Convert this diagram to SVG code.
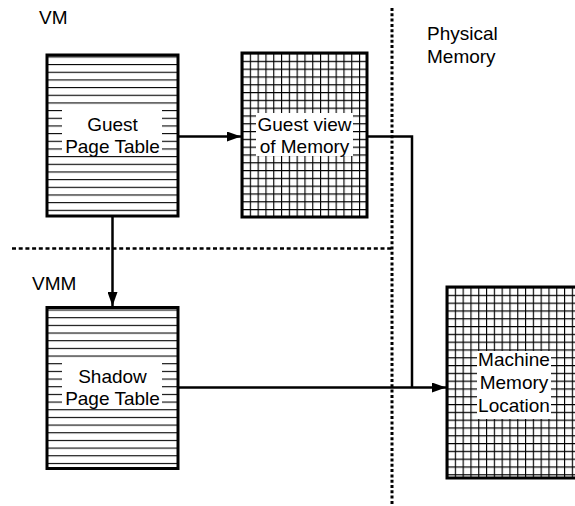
<svg xmlns="http://www.w3.org/2000/svg" width="575" height="506" viewBox="0 0 575 506">
  <style>
    .box { stroke: #000; stroke-width: 3; }
    .lbl { font-family: "Liberation Sans", Arial, sans-serif; font-size: 19px; fill: #000; }
    .mid { text-anchor: middle; }
    .bg { fill: #fff; }
    .conn { fill: none; stroke: #000; stroke-width: 2.5; }
    .sep { fill: none; stroke: #000; stroke-width: 2.5; stroke-dasharray: 4 2.7; }
    .sepv { fill: none; stroke: #000; stroke-width: 3; stroke-dasharray: 3 2.3; }
  </style>
  <defs>
    <!-- horizontal ruling for page tables -->
    <pattern id="rows" patternUnits="userSpaceOnUse" x="0" y="2.7" width="10" height="7.67">
      <rect width="10" height="7.67" fill="#fff"/>
      <line x1="0" y1="0.5" x2="10" y2="0.5" stroke="#000" stroke-width="1.2"/>
    </pattern>
    <!-- square grid for memory blocks -->
    <pattern id="grid" patternUnits="userSpaceOnUse" x="242" y="53" width="7.8" height="7.8">
      <rect width="7.8" height="7.8" fill="#fff"/>
      <path d="M0 0.5H7.8M0.5 0V7.8" stroke="#000" stroke-width="1.3" fill="none"/>
    </pattern>
    <pattern id="grid2" patternUnits="userSpaceOnUse" x="447" y="287" width="7.8" height="7.8">
      <rect width="7.8" height="7.8" fill="#fff"/>
      <path d="M0 0.5H7.8M0.5 0V7.8" stroke="#000" stroke-width="1.3" fill="none"/>
    </pattern>
    <marker id="arr" viewBox="0 0 14 10" refX="14" refY="5" markerWidth="14" markerHeight="10" markerUnits="userSpaceOnUse" orient="auto">
      <path d="M0 0L14 5L0 10Z" fill="#000"/>
    </marker>
  </defs>

  <!-- region separators and region labels -->
  <g id="regions">
    <line class="sepv" x1="392" y1="8" x2="392" y2="506"/>
    <line class="sep" x1="12" y1="248.5" x2="392" y2="248.5"/>
    <text class="lbl" x="39" y="24">VM</text>
    <text class="lbl" x="32" y="290">VMM</text>
    <text class="lbl" x="427" y="40">Physical</text>
    <text class="lbl" x="427" y="63">Memory</text>
  </g>

  <g id="connectors">
    <line class="conn" x1="178" y1="136.5" x2="241" y2="136.5" marker-end="url(#arr)"/>
    <line class="conn" x1="112.5" y1="216" x2="112.5" y2="306" marker-end="url(#arr)"/>
    <polyline class="conn" points="367,136.5 412,136.5 412,387.5"/>
    <line class="conn" x1="178" y1="387.5" x2="446" y2="387.5" marker-end="url(#arr)"/>
  </g>

  <g id="guest-page-table">
    <rect class="box" x="47" y="55" width="131" height="161" fill="url(#rows)"/>
    <rect class="bg" x="62" y="108" width="100" height="48"/>
    <text class="lbl mid" x="112.5" y="131">Guest</text>
    <text class="lbl mid" x="112.5" y="153">Page Table</text>
  </g>

  <g id="guest-view-of-memory">
    <rect class="box" x="242" y="53" width="125" height="164" fill="url(#grid)"/>
    <rect class="bg" x="256" y="113" width="97" height="43"/>
    <text class="lbl mid" x="304.5" y="131">Guest view</text>
    <text class="lbl mid" x="304.5" y="153">of Memory</text>
  </g>

  <g id="shadow-page-table">
    <rect class="box" x="47" y="307.5" width="131" height="161" fill="url(#rows)"/>
    <rect class="bg" x="62" y="360" width="100" height="48"/>
    <text class="lbl mid" x="112.5" y="383">Shadow</text>
    <text class="lbl mid" x="112.5" y="405">Page Table</text>
  </g>

  <g id="machine-memory-location">
    <rect class="box" x="447" y="287" width="134" height="191" fill="url(#grid2)"/>
    <rect class="bg" x="477" y="351" width="74" height="68"/>
    <text class="lbl mid" x="514" y="366">Machine</text>
    <text class="lbl mid" x="514" y="389">Memory</text>
    <text class="lbl mid" x="514" y="412">Location</text>
  </g>
</svg>
